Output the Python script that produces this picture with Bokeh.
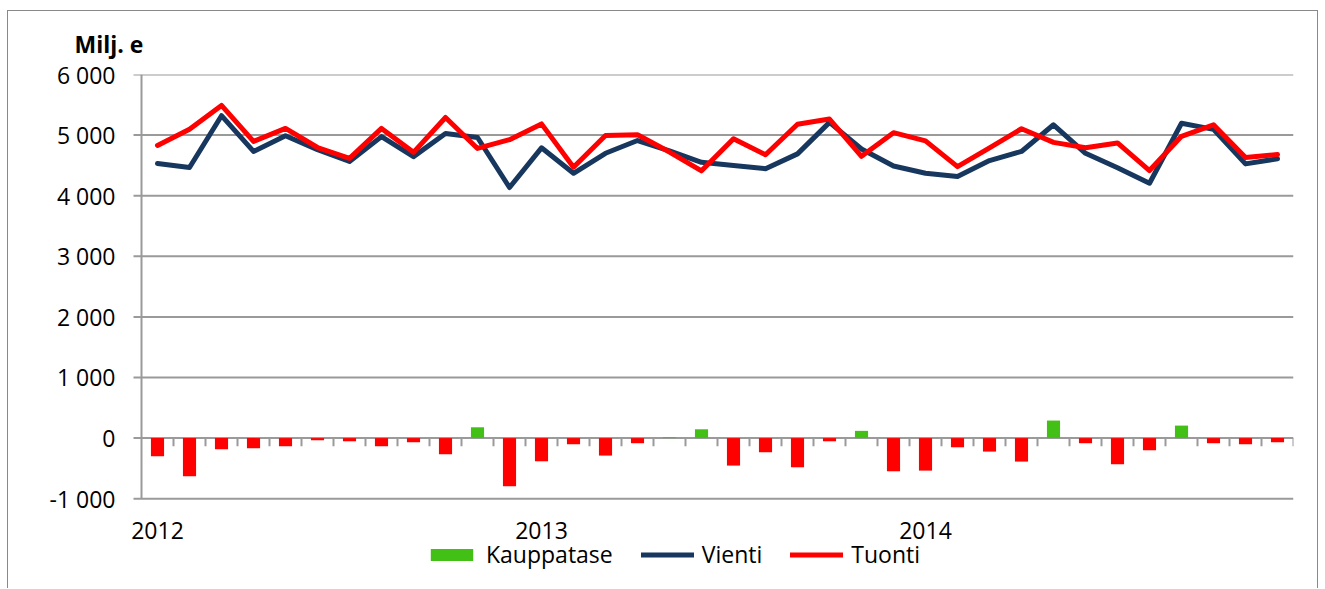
from bokeh.plotting import figure
from bokeh.models import Range1d, FixedTicker, Legend, LegendItem
from bokeh.core.properties import value
from bokeh.embed import file_html
from bokeh.resources import INLINE
import numpy as np

# ---- data (milj. e, monthly 2012-2014) ----
year_labels = ["2012", "2013", "2014"]
vienti = [4530, 4465, 5320, 4730, 4990, 4760, 4565, 4975, 4645, 5025, 4960, 4135,
          4790, 4370, 4700, 4910, 4740, 4550, 4500, 4445, 4690, 5210, 4770, 4490,
          4370, 4315, 4580, 4730, 5170, 4700, 4460, 4205, 5195, 5095, 4525, 4610]
tuonti = [4830, 5095, 5490, 4895, 5110, 4795, 4615, 5110, 4715, 5290, 4780, 4925,
          5185, 4470, 4995, 5005, 4720, 4410, 4940, 4675, 5180, 5265, 4650, 5040,
          4905, 4480, 4790, 5105, 4880, 4790, 4870, 4415, 4980, 5170, 4630, 4680]
kauppatase = [-300, -630, -185, -168, -135, -36, -53, -135, -69, -267, 178, -795,
              -383, -102, -289, -85, 15, 145, -454, -234, -482, -53, 119, -548,
              -537, -152, -223, -388, 289, -85, -432, -201, 206, -85, -102, -69]
y_ticks = [-1000, 0, 1000, 2000, 3000, 4000, 5000, 6000]
y_labels = ["-1 000", "0", "1 000", "2 000", "3 000", "4 000", "5 000", "6 000"]

n = len(vienti)
x = np.arange(n) + 0.5
kt = np.array(kauppatase, dtype=float)

FONT = "Open Sans"
FS = "23px"
GRID = "#9a9a9a"
NAVY = "#17375E"
RED = "#FF0000"
GREEN = "#43C016"

p = figure(width=1311, height=578, output_backend="svg", toolbar_location=None,
           x_range=Range1d(-0.5, n), y_range=Range1d(-2400, 6000),
           min_border_left=117, min_border_right=26, min_border_top=63,
           min_border_bottom=6, title="Milj. e")
p.margin = (10, 0, 0, 7)
p.styles = {"border-top": "1px solid #898989", "border-left": "1px solid #898989",
            "border-right": "1px solid #898989"}
p.outline_line_color = None
p.background_fill_color = "white"
p.border_fill_color = "white"

# unit label as title
p.title.text_font = FONT
p.title.text_font_size = FS
p.title.text_font_style = "bold"
p.title.text_color = "black"
p.title.align = "left"
p.title.offset = -51
p.title.standoff = 29

# grid lines (drawn from the tick marks across the plot area)
p.xgrid.visible = False
p.ygrid.visible = False
p.segment(x0=[-0.25] * len(y_ticks), x1=[float(n)] * len(y_ticks), y0=y_ticks, y1=y_ticks,
          line_color=GRID, line_width=2)
p.segment(x0=[0], x1=[0], y0=[y_ticks[0]], y1=[y_ticks[-1]], line_color=GRID, line_width=2)

# y axis labels
p.yaxis.ticker = FixedTicker(ticks=y_ticks)
p.yaxis.major_label_overrides = {t: l for t, l in zip(y_ticks, y_labels)}
p.yaxis.axis_line_color = None
p.yaxis.major_tick_line_color = None
p.yaxis.minor_tick_line_color = None
p.yaxis.major_tick_out = 0
p.yaxis.major_tick_in = 0
p.yaxis.major_label_standoff = 10
p.yaxis.major_label_text_font = FONT
p.yaxis.major_label_text_font_size = FS
p.yaxis.major_label_text_color = "black"

# x axis hidden; year labels drawn as text below the plot area
p.xaxis.visible = False
year_pos = [float(x[i]) for i in range(0, n, 12)]
p.text(x=year_pos, y=[-1530] * len(year_pos), text=year_labels,
       text_font=value(FONT), text_font_size=FS, text_color="black",
       text_align="center", text_baseline="middle")

# category tick marks on the zero line
bounds = np.arange(1, n + 1)
p.segment(x0=bounds, x1=bounds, y0=0, y1=-135, line_color=GRID, line_width=2)

# bars
pos = np.where(kt > 0, kt, 0)
neg = np.where(kt < 0, kt, 0)
r_pos = p.vbar(x=x, top=pos, bottom=0, width=0.41, fill_color=GREEN, line_color=None)
r_neg = p.vbar(x=x, top=0, bottom=neg, width=0.41, fill_color=RED, line_color=None)

# lines
r_v = p.line(x, vienti, line_color=NAVY, line_width=5, line_join="round", line_cap="round")
r_t = p.line(x, tuonti, line_color=RED, line_width=5, line_join="round", line_cap="round")

# legend at the bottom
lg = Legend(items=[LegendItem(label="Kauppatase", renderers=[r_pos]),
                   LegendItem(label="Vienti", renderers=[r_v]),
                   LegendItem(label="Tuonti", renderers=[r_t])],
            location=(300, 13), orientation="horizontal", padding=0, margin=0,
            spacing=28, border_line_color=None, background_fill_alpha=0,
            glyph_width=53, glyph_height=15, label_standoff=8,
            label_height=22, label_text_font=FONT,
            label_text_font_size=FS, label_text_color="black")
p.add_layout(lg, "center")

open("out.html", "w").write(file_html(p, INLINE))
